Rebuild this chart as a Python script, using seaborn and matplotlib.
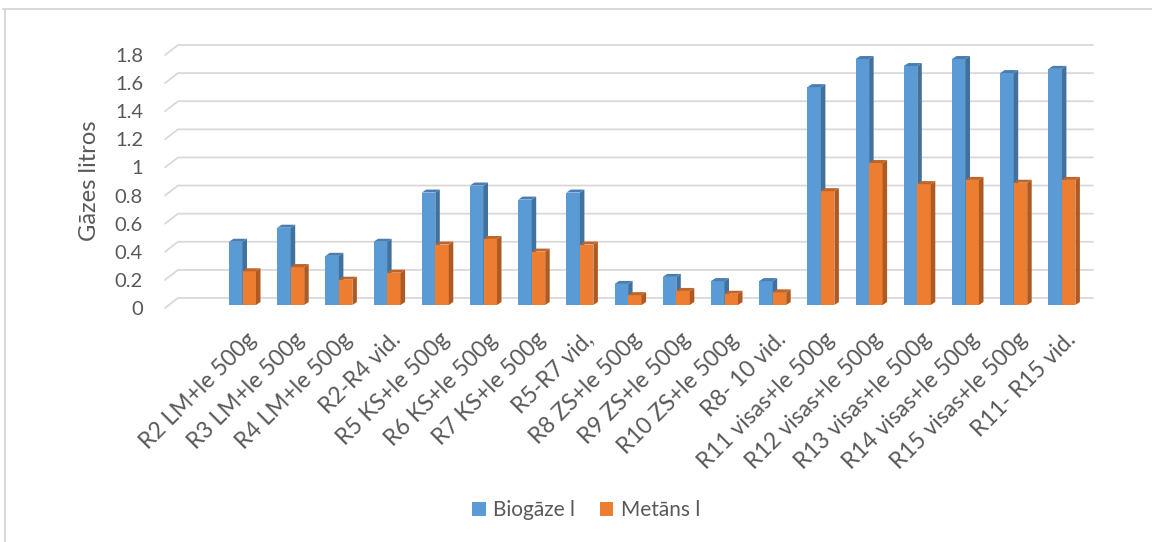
import matplotlib
matplotlib.use("Agg")
import matplotlib.pyplot as plt
import matplotlib.transforms as mtransforms
from matplotlib.patches import Polygon, Patch
from matplotlib.lines import Line2D
import seaborn as sns
import pandas as pd

# ---- data -------------------------------------------------------------
categories = ["R2 LM+le 500g", "R3 LM+le 500g", "R4 LM+le 500g", "R2-R4 vid.",
              "R5 KS+le 500g", "R6 KS+le 500g", "R7 KS+le 500g", "R5-R7 vid,",
              "R8 ZS+le 500g", "R9 ZS+le 500g", "R10 ZS+le 500g", "R8- 10 vid.",
              "R11 visas+le 500g", "R12 visas+le 500g", "R13 visas+le 500g",
              "R14 visas+le 500g", "R15 visas+le 500g", "R11- R15 vid."]
biogaze = [0.45, 0.55, 0.35, 0.45, 0.80, 0.85, 0.75, 0.80, 0.15, 0.20,
           0.17, 0.17, 1.55, 1.75, 1.70, 1.75, 1.65, 1.68]
metans = [0.24, 0.27, 0.18, 0.23, 0.43, 0.47, 0.38, 0.43, 0.07, 0.10,
          0.08, 0.09, 0.81, 1.01, 0.86, 0.89, 0.87, 0.89]
series_names = ["Biogāze l", "Metāns l"]
y_ticks = [0, 0.2, 0.4, 0.6, 0.8, 1.0, 1.2, 1.4, 1.6, 1.8]
y_tick_labels = ["0", "0.2", "0.4", "0.6", "0.8", "1", "1.2", "1.4", "1.6", "1.8"]
y_title = "Gāzes litros"

# ---- style ------------------------------------------------------------
W, H, DPI = 1152, 542, 100
BLUE, ORANGE = "#5B9BD5", "#ED7D31"
SIDE = {BLUE: "#41719C", ORANGE: "#AE5A21"}
TOP = {BLUE: "#4A7DB0", ORANGE: "#C0652A"}
TEXT = "#595959"
GRID = "#D9D9D9"
FS_Y = 14.5
FS_X = 16.5
FS_TITLE = 17
FS_LEG = 15

sns.set_theme(style="white")
plt.rcParams["font.family"] = ["Lato", "DejaVu Sans"]

df = pd.DataFrame({
    "kategorija": categories * 2,
    "vertiba": biogaze + metans,
    "serija": [series_names[0]] * len(categories) + [series_names[1]] * len(categories),
})

fig = plt.figure(figsize=(W / DPI, H / DPI), dpi=DPI)
fig.patch.set_facecolor("white")

# plot area in pixel terms (image coords, y downward)
left_px, right_px, zero_px, top_px = 165, 1093, 305, 52
ax = fig.add_axes([left_px / W, 1 - zero_px / H,
                   (right_px - left_px) / W, (zero_px - top_px) / H])

sns.barplot(data=df, x="kategorija", y="vertiba", hue="serija",
            palette=[BLUE, ORANGE], width=0.56, gap=0, saturation=1,
            legend=False, ax=ax, order=categories, hue_order=series_names)

step = 48.2
c0 = 242.5
xlim = ((left_px - c0) / step, (right_px - c0) / step)
ax.set_xlim(*xlim)
ax.set_ylim(0, 1.8)
ax.patch.set_alpha(0)
for s in ax.spines.values():
    s.set_visible(False)
ax.grid(False)

ident = mtransforms.IdentityTransform()

# back-wall gridlines with slanted floor edge on the left
for v in y_ticks:
    yf = ax.transData.transform((0, v))[1]
    ax.add_line(Line2D([left_px, left_px + 13, right_px], [yf - 3, yf + 7, yf + 7],
                       transform=ident, color=GRID, lw=1.3, zorder=0.5,
                       clip_on=False))

# extruded side and top faces of each bar
dx, dy = 4.5, 3.0
bars = [p for p in ax.patches if p.get_height() > 0]
for p in bars:
    fc = matplotlib.colors.to_hex(p.get_facecolor())
    base_z = 2 if fc.upper() == BLUE.upper() else 3
    p.set_zorder(base_z)
    p.set_edgecolor("none")
    x0, w, h = p.get_x(), p.get_width(), p.get_height()
    (X0, Y0), (X1, Y1) = ax.transData.transform([(x0, 0), (x0 + w, h)])
    side = Polygon([(X1, Y0), (X1 + dx, Y0 + dy), (X1 + dx, Y1 + dy), (X1, Y1)],
                   closed=True, transform=ident, facecolor=SIDE.get(fc.upper(), fc),
                   edgecolor="none", zorder=base_z + 0.1, clip_on=False)
    top = Polygon([(X0, Y1), (X1, Y1), (X1 + dx, Y1 + dy), (X0 + dx, Y1 + dy)],
                  closed=True, transform=ident, facecolor=TOP.get(fc.upper(), fc),
                  edgecolor="none", zorder=base_z + 0.1, clip_on=False)
    ax.add_patch(side)
    ax.add_patch(top)

# ticks and labels
ax.set_yticks(y_ticks, y_tick_labels)
ax.set_xticks(range(len(categories)))
ax.set_xticklabels(categories, rotation=45, ha="right", rotation_mode="anchor")
ax.tick_params(axis="both", length=0, colors=TEXT)
ax.tick_params(axis="y", pad=22 * 72 / DPI, labelsize=FS_Y)
ax.tick_params(axis="x", pad=24 * 72 / DPI, labelsize=FS_X)
shift_y = mtransforms.ScaledTranslation(0, -3 / DPI, fig.dpi_scale_trans)
for lbl in ax.get_yticklabels():
    lbl.set_transform(lbl.get_transform() + shift_y)
shift_x = mtransforms.ScaledTranslation(3 / DPI, 0, fig.dpi_scale_trans)
for lbl in ax.get_xticklabels():
    lbl.set_transform(lbl.get_transform() + shift_x)
ax.set_xlabel("")
ax.set_ylabel("")
ax.set_xlim(*xlim)
ax.set_ylim(0, 1.8)

fig.text(89 / W, 1 - 181 / H, y_title, rotation=90, ha="center", va="center",
         color=TEXT, fontsize=FS_TITLE)

# legend
handles = [Patch(facecolor=BLUE, edgecolor="none", label=series_names[0]),
           Patch(facecolor=ORANGE, edgecolor="none", label=series_names[1])]
leg = fig.legend(handles=handles, loc="center", bbox_to_anchor=(586 / W, 1 - 510 / H),
                 ncol=2, frameon=False, handlelength=0.65, handleheight=0.65,
                 handletextpad=0.35, columnspacing=1.2, fontsize=FS_LEG)
for t in leg.get_texts():
    t.set_color(TEXT)

# chart frame
fig.add_artist(Line2D([5 / W, 5 / W], [0, 1 - 9 / H], transform=fig.transFigure,
                      color=GRID, lw=1.5))
fig.add_artist(Line2D([3 / W, 1], [1 - 9 / H, 1 - 9 / H], transform=fig.transFigure,
                      color=GRID, lw=1.5))

fig.savefig("out.png", dpi=DPI, facecolor="white")
